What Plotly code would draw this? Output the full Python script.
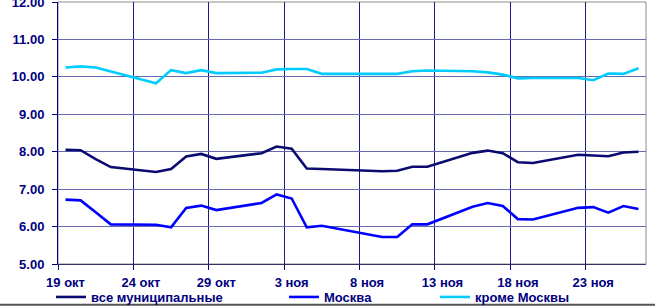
import plotly.graph_objects as go

dates = ["2004-10-19", "2004-10-20", "2004-10-21", "2004-10-22", "2004-10-25",
         "2004-10-26", "2004-10-27", "2004-10-28", "2004-10-29",
         "2004-11-01", "2004-11-02", "2004-11-03", "2004-11-04", "2004-11-05",
         "2004-11-09", "2004-11-10", "2004-11-11", "2004-11-12",
         "2004-11-15", "2004-11-16", "2004-11-17", "2004-11-18", "2004-11-19",
         "2004-11-22", "2004-11-23", "2004-11-24", "2004-11-25", "2004-11-26"]

all_municipal = [8.05, 8.04, 7.80, 7.59, 7.46, 7.54, 7.87, 7.94, 7.81,
                 7.96, 8.14, 8.08, 7.55, 7.54,
                 7.48, 7.49, 7.60, 7.60,
                 7.97, 8.03, 7.96, 7.72, 7.70,
                 7.92, 7.90, 7.88, 7.98, 8.00]
moscow = [6.72, 6.70, 6.38, 6.06, 6.05, 5.98, 6.50, 6.56, 6.44,
          6.63, 6.86, 6.75, 5.98, 6.02,
          5.72, 5.72, 6.06, 6.06,
          6.53, 6.63, 6.55, 6.20, 6.19,
          6.50, 6.52, 6.37, 6.55, 6.47]
except_moscow = [10.25, 10.28, 10.25, 10.14, 9.83, 10.18, 10.10, 10.18, 10.10,
                 10.11, 10.20, 10.21, 10.21, 10.08,
                 10.08, 10.08, 10.15, 10.17,
                 10.15, 10.12, 10.06, 9.96, 9.97,
                 9.97, 9.91, 10.09, 10.08, 10.23]

series_names = ["все муниципальные", "Москва", "кроме Москвы"]
tick_dates = ["2004-10-19", "2004-10-24", "2004-10-29", "2004-11-03",
              "2004-11-08", "2004-11-13", "2004-11-18", "2004-11-23"]
tick_labels = ["19 окт", "24 окт", "29 окт", "3 ноя", "8 ноя", "13 ноя", "18 ноя", "23 ноя"]
y_ticks = [5, 6, 7, 8, 9, 10, 11, 12]

x_mid = [d + " 12:00" for d in dates]
x_range = ["2004-10-19 00:00", "2004-11-27 00:00"]

NAVY = "#000080"
FONT = "Liberation Sans, Arial, sans-serif"

fig = go.Figure()
colors = ["#0A0A70", "#0000FF", "#00CCFF"]
legends = ["legend", "legend2", "legend3"]
for name, vals, col, lg in zip(series_names, [all_municipal, moscow, except_moscow], colors, legends):
    fig.add_trace(go.Scatter(x=x_mid, y=vals, mode="lines", name=name,
                             line=dict(color=col, width=2.6), legend=lg,
                             xaxis="x", yaxis="y"))

# invisible trace to activate the label axis
fig.add_trace(go.Scatter(x=[x_mid[0]], y=[None], xaxis="x2", yaxis="y",
                         showlegend=False, hoverinfo="skip"))

fig.update_layout(
    width=655, height=307,
    margin=dict(l=58, r=9, t=2, b=43, autoexpand=False),
    paper_bgcolor="white", plot_bgcolor="white",
    font=dict(family=FONT, color=NAVY, size=13),
    xaxis=dict(type="date", range=x_range, tickmode="array", tickvals=tick_dates,
               showticklabels=False, ticks="outside", ticklen=5, tickcolor=NAVY,
               showgrid=True, gridcolor="#1a1a8c", gridwidth=1, automargin=False,
               showline=True, linecolor="#333366", linewidth=1, zeroline=False),
    xaxis2=dict(type="date", range=x_range, overlaying="x", anchor="y", side="bottom",
                tickmode="array", tickvals=[d + " 12:00" for d in tick_dates],
                ticktext=tick_labels, ticks="", showgrid=False, showline=False,
                zeroline=False, ticklabelstandoff=9, automargin=False,
                ticklabeloverflow="allow",
                tickfont=dict(family=FONT, size=13, color=NAVY, weight="bold")),
    yaxis=dict(range=[5, 12], tickmode="array", tickvals=y_ticks,
               tickformat=".2f", ticks="outside", ticklen=5, tickcolor=NAVY,
               showgrid=True, gridcolor="#6868b0", gridwidth=1, automargin=False,
               ticklabeloverflow="allow", ticklabelstandoff=5,
               showline=True, linecolor=NAVY, linewidth=1, zeroline=False,
               tickfont=dict(family=FONT, size=13, color=NAVY, weight="bold")),
    shapes=[
        dict(type="rect", xref="paper", yref="paper", x0=0, x1=1, y0=0, y1=1,
             line=dict(color="#8c8c8c", width=1), layer="below"),
        dict(type="line", xref="paper", yref="paper", x0=-0.0986, x1=1.0153,
             y0=-0.156, y1=-0.156, line=dict(color="#555555", width=2)),
    ],
)

leg_common = dict(orientation="h", yanchor="middle", y=-0.126, xanchor="left",
                  bgcolor="rgba(0,0,0,0)", borderwidth=0,
                  font=dict(family=FONT, size=13, color=NAVY, weight="bold"),
                  itemwidth=30)
fig.update_layout(
    legend=dict(x=(51 - 58) / 588, **leg_common),
    legend2=dict(x=(284 - 58) / 588, **leg_common),
    legend3=dict(x=(435 - 58) / 588, **leg_common),
)

fig.write_html("out.html", config={"displayModeBar": False},
               post_script="document.body.style.margin='0';document.body.style.padding='0';")
